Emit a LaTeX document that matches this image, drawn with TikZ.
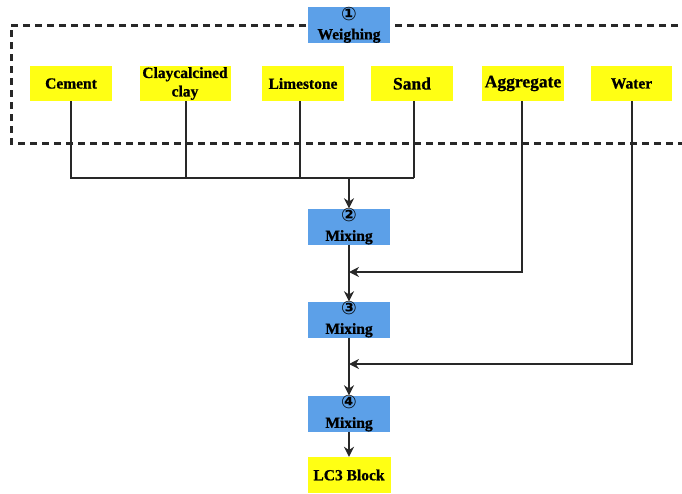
\documentclass[tikz,border=0pt]{standalone}
\usepackage{fontspec}
\setmainfont[BoldFeatures={FakeBold=0.8}]{Liberation Serif}
\newfontfamily\symf{DejaVu Sans}
\usetikzlibrary{arrows.meta}
\definecolor{boxblue}{RGB}{92,160,232}
\definecolor{boxyellow}{RGB}{255,255,20}
\definecolor{linec}{RGB}{40,40,40}
\tikzset{
  stepbox/.style={fill=boxblue, minimum width=82pt, minimum height=36pt, inner sep=0pt, align=center,
    font=\bfseries\fontsize{15.5}{19}\selectfont},
  matbox/.style={fill=boxyellow, minimum height=35pt, inner sep=0pt, align=center,
    font=\bfseries\fontsize{15.5}{15.5}\selectfont},
  conn/.style={draw=linec, line width=2.5pt},
  arr/.style={conn, -{Stealth[length=10pt,width=10pt]}},
  dashbox/.style={draw=linec, line width=3pt, dash pattern=on 7pt off 5pt}
}
\newcommand{\circnum}[1]{{\symf\fontsize{18.5}{18.5}\selectfont #1}}
\begin{document}
\begin{tikzpicture}[x=1pt,y=-1pt]
\useasboundingbox (0,0) rectangle (682,493);
% dashed frame (open to the right)
\draw[dashbox] (690,25) -- (11,25) -- (11,143) -- (690,143);
% top step
\node[stepbox] (weigh) at (349,25) {\circnum{①}\\Weighing};
% materials
\node[matbox, minimum width=82pt] (cement) at (71,83.5) {Cement};
\node[matbox, minimum width=91pt, font=\bfseries\fontsize{15.5}{18.5}\selectfont] (clay) at (185,83.5) {Claycalcined\\clay};
\node[matbox, minimum width=82pt] (lime) at (303,83.5) {Limestone};
\node[matbox, minimum width=82pt, font=\bfseries\fontsize{17.5}{17.5}\selectfont] (sand) at (412,83.5) {Sand};
\node[matbox, minimum width=82pt, font=\bfseries\fontsize{17.5}{17.5}\selectfont] (aggr) at (523,83.5) {Aggregate};
\node[matbox, minimum width=81pt] (water) at (631.5,83.5) {Water};
% mixing steps
\node[stepbox] (mix2) at (349,226.5) {\circnum{②}\\Mixing};
\node[stepbox] (mix3) at (349,319.5) {\circnum{③}\\Mixing};
\node[stepbox] (mix4) at (349,413.5) {\circnum{④}\\Mixing};
\node[matbox, minimum width=83pt, minimum height=36pt] (lc3) at (349,475) {LC3 Block};
% junction coordinates
\coordinate (jc) at (71,178);
\coordinate (jcl) at (186,178);
\coordinate (jl) at (300,178);
\coordinate (js) at (414,178);
\coordinate (jm) at (349,178);
\coordinate (ja) at (522,272);
\coordinate (jam) at (349,272);
\coordinate (jw) at (632,364);
\coordinate (jwm) at (349,364);
% connectors
\draw[conn] (cement.south) -- (jc) -- (js);
\draw[conn] (clay.south -| jcl) -- (jcl);
\draw[conn] (lime.south -| jl) -- (jl);
\draw[conn] (sand.south -| js) -- (js);
\draw[arr] (jm) -- (mix2.north);
\draw[arr] (aggr.south -| ja) -- (ja) -- (jam);
\draw[arr] (mix2.south) -- (mix3.north);
\draw[arr] (water.south -| jw) -- (jw) -- (jwm);
\draw[arr] (mix3.south) -- (mix4.north);
\draw[arr] (mix4.south) -- (lc3.north);
\end{tikzpicture}
\end{document}
